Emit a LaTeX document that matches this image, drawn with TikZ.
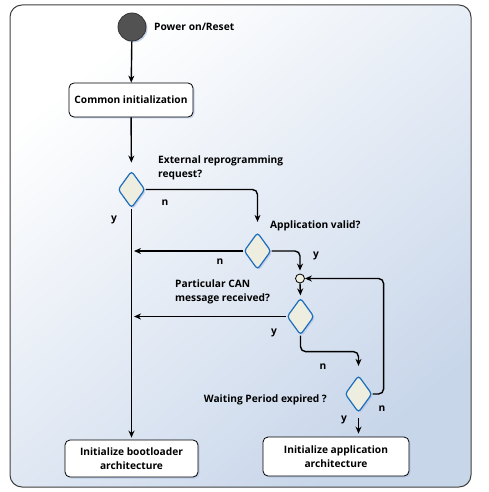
\documentclass[tikz,border=0pt]{standalone}
\usepackage{fontspec}
\setmainfont{Open Sans}
\usetikzlibrary{arrows.meta}
\usetikzlibrary{shapes.geometric}
\usetikzlibrary{shadows}
\usetikzlibrary{positioning}

\definecolor{bgblue}{RGB}{200,214,234}
\definecolor{decfill}{RGB}{238,238,224}
\definecolor{decline}{RGB}{30,110,190}
\definecolor{glow}{RGB}{170,190,225}

\begin{document}
\begin{tikzpicture}[x=1pt,y=1pt,
    font=\bfseries\fontsize{10.2}{14}\selectfont,
    flow/.style={line width=1.4pt, rounded corners=5pt, -{Stealth[length=7pt,width=6pt]}},
    action/.style={draw, line width=0.8pt, fill=white, rounded corners=5pt, align=center,
        inner sep=2pt, drop shadow={shadow xshift=1.5pt, shadow yshift=-1.5pt, fill=glow, opacity=0.6}},
    decision/.style={diamond, draw=decline, line width=1.2pt, fill=decfill, rounded corners=3pt,
        minimum width=27pt, minimum height=37pt, inner sep=0pt,
        drop shadow={shadow xshift=1.5pt, shadow yshift=-1.5pt, fill=glow, opacity=0.6}},
    lbl/.style={inner sep=0pt, align=left}]
\useasboundingbox (0,0) rectangle (489,-492);
\shade[top color=white, bottom color=bgblue, shading angle=40, rounded corners=12pt]
    (10,-5) rectangle (471,-487);
\draw[line width=1pt, draw=black!75, rounded corners=12pt] (10,-5) rectangle (471,-487);

% nodes
\node[circle, draw=black!80, fill=black!68, line width=0.8pt, minimum size=28pt, inner sep=0pt,
    drop shadow={shadow xshift=1.5pt, shadow yshift=-1.5pt, fill=glow, opacity=0.7}] (start) at (132,-27) {};
\node[action, minimum width=124pt, minimum height=34pt] (comm_init) at (131,-100) {Common initialization};
\node[decision] (ext_req) at (131.5,-189.5) {};
\node[decision] (app_valid) at (257.5,-251) {};
\node[circle, draw, fill=decfill, line width=0.8pt, minimum size=9pt, inner sep=0pt] (join) at (300,-278.5) {};
\node[decision] (can_msg) at (300.5,-316.5) {};
\node[decision] (wait_exp) at (358.5,-394) {};
\node[action, minimum width=133pt, minimum height=37pt] (init_boot) at (131.5,-458.5) {Initialize bootloader\\architecture};
\node[action, minimum width=146pt, minimum height=39pt] (init_app) at (336,-456.5) {Initialize application\\architecture};
\coordinate (main_ln) at (132,0);

% texts
\node[lbl, anchor=west] (t_power) at (154,-27) {Power on/Reset};
\node[lbl, anchor=north west] (t_ext) at (158,-156) {External reprogramming\\request?};
\node[lbl, anchor=west] (t_app) at (270,-226) {Application valid?};
\node[lbl, anchor=north west] (t_can) at (175,-280) {Particular CAN\\message received?};
\node[lbl, anchor=east] (t_wait) at (327,-400) {Waiting Period expired ?};
\node[lbl] (n_ext) at (165,-203) {n};
\node[lbl] (y_ext) at (114,-220) {y};
\node[lbl] (n_app) at (220,-262) {n};
\node[lbl] (y_app) at (316,-256) {y};
\node[lbl] (y_can) at (274,-333) {y};
\node[lbl] (n_can) at (323,-367) {n};
\node[lbl] (n_wait) at (382,-409) {n};
\node[lbl] (y_wait) at (344,-420) {y};

% connectors
\draw[flow] (start) -- (comm_init);
\draw[flow, shorten >=8pt] (comm_init) -- (ext_req);
\draw[flow, shorten >=2pt] (ext_req.south) -- (init_boot.north);
\draw[flow, shorten >=10pt] (ext_req.east) -| (app_valid.north);
\draw[flow, shorten >=2pt] (app_valid.west) -- (app_valid.west -| main_ln);
\draw[flow, shorten >=3pt] (app_valid.east) -| (join.north);
\draw[flow, shorten >=2pt] (join.south) -- (can_msg.north);
\draw[flow, shorten >=2pt] (can_msg.west) -- (can_msg.west -| main_ln);
\draw[flow, shorten >=9pt] (can_msg.south) -- ++(0,-16) -| (wait_exp.north);
\draw[flow] (wait_exp.east) -- ++(11,0) |- (join.east);
\draw[flow, shorten <=5pt, shorten >=3pt] (wait_exp.south) -- (wait_exp.south |- init_app.north);
\end{tikzpicture}
\end{document}
